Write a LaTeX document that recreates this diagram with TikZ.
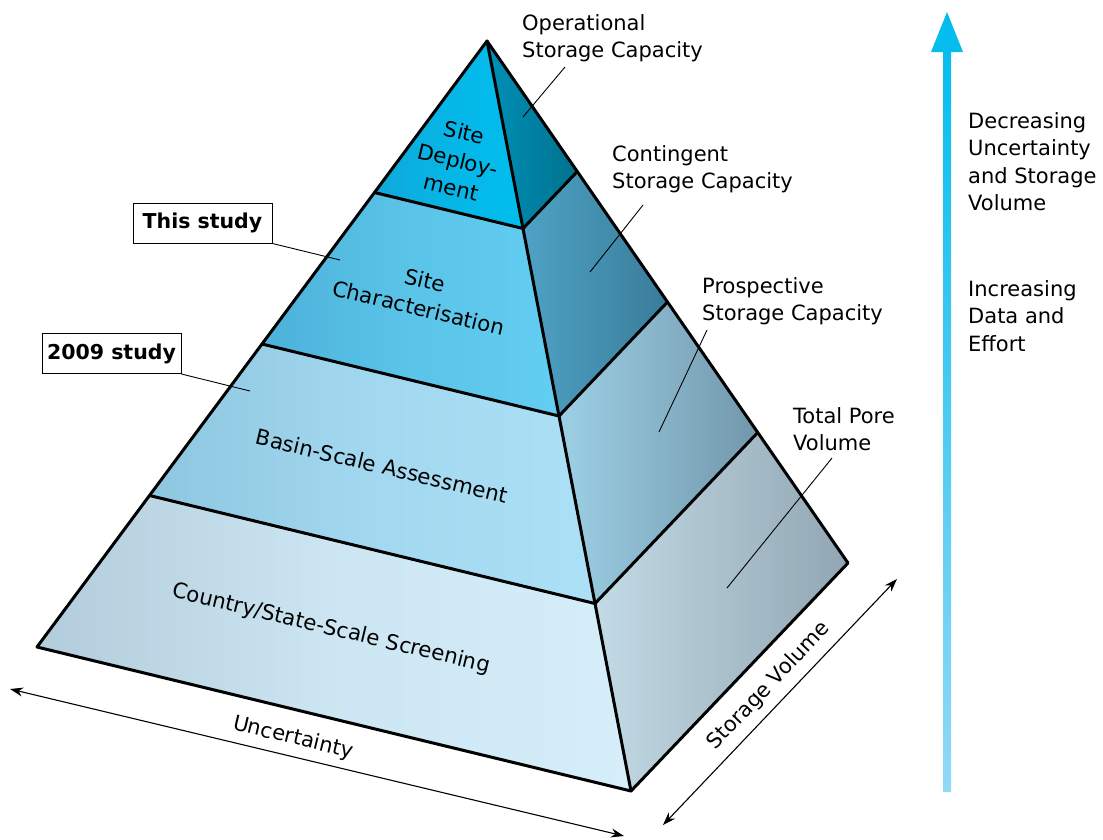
\documentclass[tikz,border=0pt]{standalone}
\usepackage{fontspec}
\setmainfont{DejaVu Sans}
\usetikzlibrary{calc,arrows.meta}
\definecolor{depL}{HTML}{10A8D9}
\definecolor{depR}{HTML}{00BEEE}
\definecolor{depSL}{HTML}{0090B6}
\definecolor{depSR}{HTML}{00728F}
\definecolor{chaL}{HTML}{4DB1D9}
\definecolor{chaR}{HTML}{62CEF1}
\definecolor{chaSL}{HTML}{4EA2C6}
\definecolor{chaSR}{HTML}{3A7C99}
\definecolor{basL}{HTML}{8EC6E0}
\definecolor{basR}{HTML}{ABE0F6}
\definecolor{basSL}{HTML}{9DD0E6}
\definecolor{basSR}{HTML}{7297AB}
\definecolor{couL}{HTML}{B2CCDB}
\definecolor{couR}{HTML}{D5EEFA}
\definecolor{couSL}{HTML}{C3DBE6}
\definecolor{couSR}{HTML}{91A6B2}
\definecolor{arrTop}{HTML}{00BCEE}
\definecolor{arrBot}{HTML}{92D9F5}
\begin{document}
\begin{tikzpicture}[x=1pt,y=-1pt,
  edge/.style={line width=3pt,line join=round,line cap=round},
  leader/.style={line width=0.9pt},
  dimline/.style={line width=1.1pt,{Stealth[length=13pt,width=9pt]}-{Stealth[length=13pt,width=9pt]}},
  lbl/.style={font=\fontsize{21}{27.5}\selectfont,align=left,anchor=north west,inner sep=0pt},
  layer/.style={font=\fontsize{21.3}{28.5}\selectfont,align=center,rotate=-13.5,inner sep=0pt},
  studybox/.style={draw,line width=1pt,font=\bfseries\fontsize{20.5}{24}\selectfont,minimum width=139pt,minimum height=40pt,inner sep=0pt}
]
\useasboundingbox (0,0) rectangle (1103,839);
% corners
\coordinate (A) at (487,41);
\coordinate (L) at (37,647);
\coordinate (F) at (631,791);
\coordinate (R) at (848,563);
\foreach \i/\f in {1/0.25,2/0.5,3/0.75}{
  \coordinate (L\i) at ($(A)!\f!(L)$);
  \coordinate (F\i) at ($(A)!\f!(F)$);
  \coordinate (R\i) at ($(A)!\f!(R)$);
}
% faces
\shade[left color=depL,right color=depR,middle color=depL!35!depR] (A) -- (L1) -- (F1) -- cycle;
\shade[left color=depSL,right color=depSR] (A) -- (F1) -- (R1) -- cycle;
\shade[left color=chaL,right color=chaR,middle color=chaL!35!chaR] (L1) -- (L2) -- (F2) -- (F1) -- cycle;
\shade[left color=chaSL,right color=chaSR] (F1) -- (F2) -- (R2) -- (R1) -- cycle;
\shade[left color=basL,right color=basR,middle color=basL!30!basR] (L2) -- (L3) -- (F3) -- (F2) -- cycle;
\shade[left color=basSL,right color=basSR] (F2) -- (F3) -- (R3) -- (R2) -- cycle;
\shade[left color=couL,right color=couR,middle color=couL!25!couR] (L3) -- (L) -- (F) -- (F3) -- cycle;
\shade[left color=couSL,right color=couSR] (F3) -- (F) -- (R) -- (R3) -- cycle;
% edges
\draw[edge] (A) -- (L) -- (F) -- (R) -- cycle;
\draw[edge] (A) -- (F);
\draw[edge] (L1) -- (F1) -- (R1);
\draw[edge] (L2) -- (F2) -- (R2);
\draw[edge] (L3) -- (F3) -- (R3);
% layer labels
\node[layer] (tdep) at (458,160) {Site\\Deploy-\\ment};
\node[layer] (tcha) at (422,294) {Site\\Characterisation};
\node[layer] (tbas) at (382,466) {Basin-Scale Assessment};
\node[layer] (tcou) at (331,629) {Country/State-Scale Screening};
% right labels
\node[lbl] (lop) at (522,14) {Operational\\Storage Capacity};
\node[lbl] (lco) at (612,145) {Contingent\\Storage Capacity};
\node[lbl] (lpr) at (702,277) {Prospective\\Storage Capacity};
\node[lbl] (ltp) at (793,407) {Total Pore\\Volume};
\coordinate (op1) at (565,67);  \coordinate (op2) at (523,117);
\coordinate (co1) at (643,205); \coordinate (co2) at (590,272);
\coordinate (pr1) at (707,330); \coordinate (pr2) at (659,432);
\coordinate (tp1) at (832,458); \coordinate (tp2) at (727,588);
\draw[leader] (op1) -- (op2);
\draw[leader] (co1) -- (co2);
\draw[leader] (pr1) -- (pr2);
\draw[leader] (tp1) -- (tp2);
% study boxes
\node[studybox] (ts) at (202.5,223) {This study};
\node[studybox] (ns) at (111.5,353.5) {2009 study};
\coordinate (ts2) at (340,260);
\coordinate (ns2) at (250,391);
\draw[leader] (ts.south east) -- (ts2);
\draw[leader] (ns.south east) -- (ns2);
% dimension arrows
\coordinate (u1) at (10,689);
\coordinate (u2) at (624,836);
\draw[dimline] (u1) -- (u2);
\node[font=\fontsize{21}{24}\selectfont,rotate=-13.5,inner sep=0pt] (tu) at (293,738) {Uncertainty};
\coordinate (s1) at (663,825);
\coordinate (s2) at (897,579);
\draw[dimline] (s1) -- (s2);
\node[font=\fontsize{21}{24}\selectfont,rotate=46.4,inner sep=0pt] (tsv) at (769,686) {Storage Volume};
% vertical arrow
\shade[bottom color=arrBot,top color=arrTop] (943,792) -- (951,792) -- (951,52) -- (963,52) -- (947,12) -- (931,52) -- (943,52) -- cycle;
\node[lbl] (ldec) at (968,112) {Decreasing\\Uncertainty\\and Storage\\Volume};
\node[lbl] (linc) at (968,280) {Increasing\\Data and\\Effort};
\end{tikzpicture}
\end{document}
